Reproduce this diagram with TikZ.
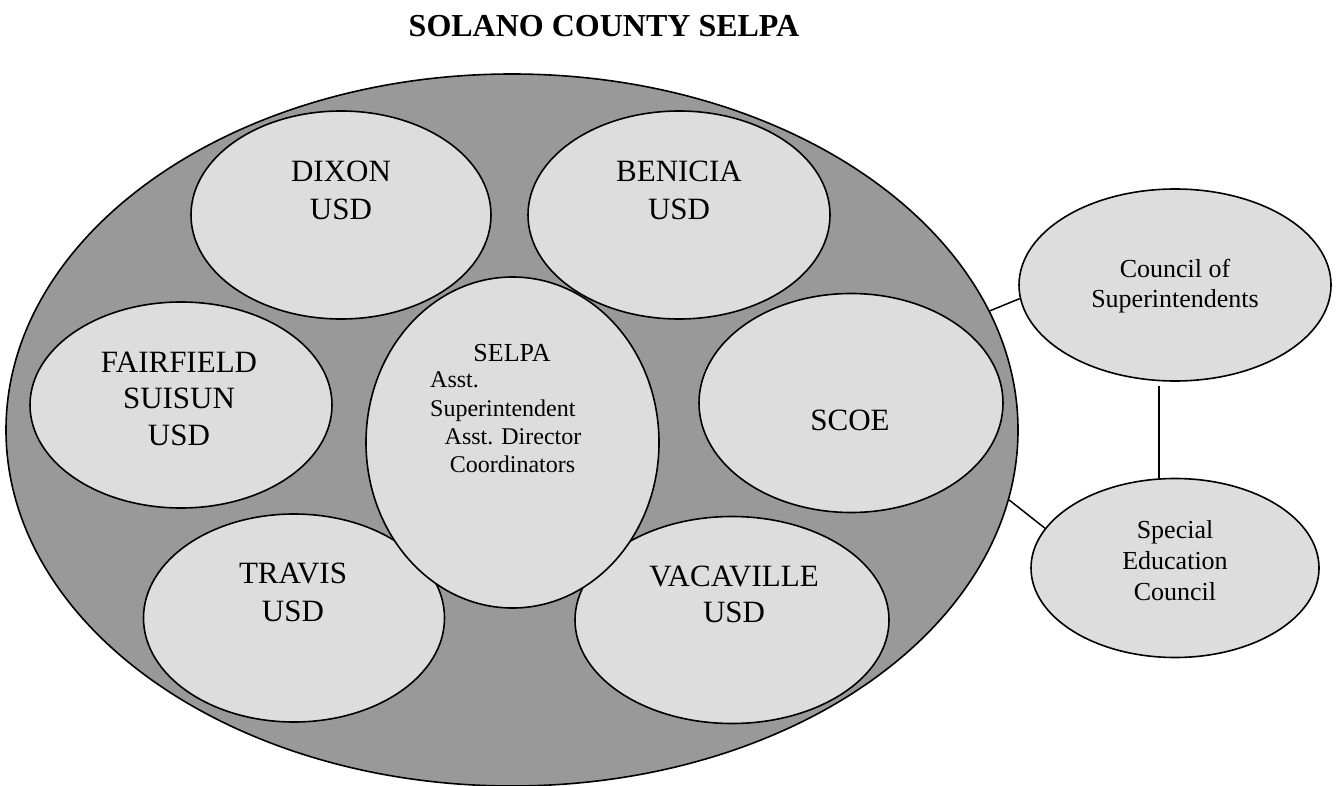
\documentclass[tikz,border=0pt]{standalone}
\usepackage{fontspec}
\setmainfont{Liberation Serif}
\usetikzlibrary{shapes.geometric}
\definecolor{outergray}{RGB}{153,153,153}
\definecolor{innergray}{RGB}{221,221,221}
\begin{document}
\begin{tikzpicture}[x=1pt,y=-1pt,
  blob/.style={ellipse, draw=black, line width=1.6pt, fill=innergray, inner sep=0pt},
  big/.style={anchor=base, inner sep=0pt, font=\fontsize{31}{37}\selectfont},
  mid/.style={anchor=base, inner sep=0pt, font=\fontsize{26}{30}\selectfont},
  small/.style={anchor=base, inner sep=0pt, font=\fontsize{24}{28}\selectfont},
  link/.style={draw=black, line width=1.5pt}]
\useasboundingbox (0,0) rectangle (1337,786);
\fill[white] (0,0) rectangle (1337,786);

\node[inner sep=0pt, anchor=base, font=\fontsize{32}{38}\selectfont\bfseries] (title) at (604,37) {SOLANO COUNTY SELPA};

\node[ellipse, draw=black, line width=1.6pt, fill=outergray, inner sep=0pt,
      minimum width=1012pt, minimum height=712pt] (outer) at (512,430) {};

\node[blob, minimum width=300pt, minimum height=208pt] (dixon) at (341,215) {};
\node[blob, minimum width=302pt, minimum height=208pt] (benicia) at (679,215) {};
\node[blob, minimum width=302pt, minimum height=206pt] (fairfield) at (181,405) {};
\node[blob, minimum width=301pt, minimum height=208pt] (travis) at (294,618) {};
\node[blob, minimum width=314pt, minimum height=207pt] (vacaville) at (732,620) {};
\node[blob, minimum width=304pt, minimum height=219pt] (scoe) at (851,403) {};
\node[blob, minimum width=293pt, minimum height=331pt] (selpa) at (512.5,442.5) {};
\node[blob, minimum width=312pt, minimum height=192pt] (council) at (1175,285) {};
\node[blob, minimum width=288pt, minimum height=179pt] (special) at (1175,568) {};

\node[big] (t1) at (341,182) {DIXON};
\node[big] (t2) at (341,220) {USD};
\node[big] (t3) at (679,182) {BENICIA};
\node[big] (t4) at (679,220) {USD};
\node[big] (t5) at (179,372) {FAIRFIELD};
\node[big] (t6) at (179,408) {SUISUN};
\node[big] (t7) at (179,445) {USD};
\node[big] (t8) at (293,583) {TRAVIS};
\node[big] (t9) at (293,621) {USD};
\node[big] (t10) at (734,586) {VACAVILLE};
\node[big] (t11) at (734,622) {USD};
\node[big] (t12) at (850,430) {SCOE};

\node[mid] (s1) at (512,361) {SELPA};
\node[small, anchor=base west] (s2) at (430,387) {Asst.};
\node[small, anchor=base west] (s3) at (430,416) {Superintendent};
\node[small] (s4) at (513,444) {Asst. Director};
\node[small] (s5) at (512.5,472) {Coordinators};

\node[mid] (c1) at (1175,277) {Council of};
\node[mid] (c2) at (1175,307) {Superintendents};
\node[mid] (e1) at (1175,538) {Special};
\node[mid] (e2) at (1175,569) {Education};
\node[mid] (e3) at (1175,600) {Council};

\draw[link] (outer.14.6) -- (council.185);
\draw[link] ([xshift=-16pt,yshift=-4pt]council.south) -- ([xshift=-16pt]special.north);
\draw[link] (outer.-8.7) -- (special.163.4);
\end{tikzpicture}
\end{document}
